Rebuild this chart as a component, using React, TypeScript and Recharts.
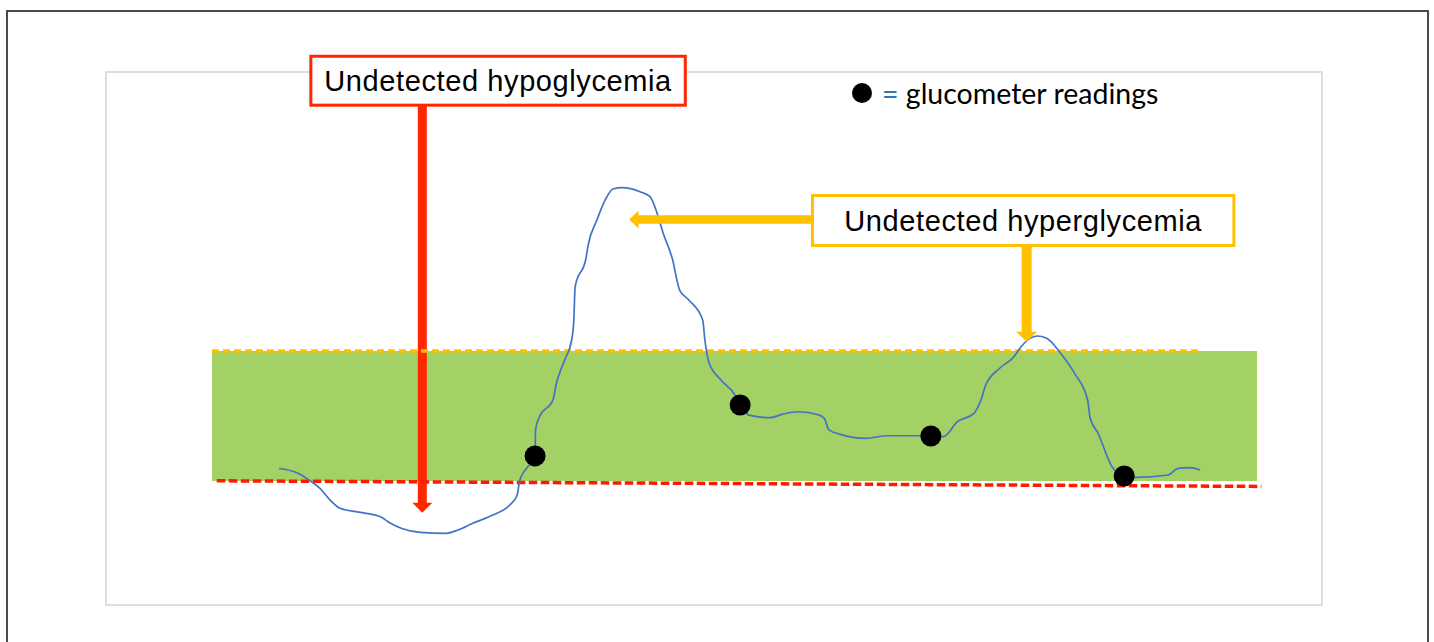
import React from 'react';
import {
  ComposedChart,
  Line,
  Scatter,
  XAxis,
  YAxis,
  ReferenceArea,
  ReferenceLine,
  Legend,
} from 'recharts';

// Time of day in hours (the target band spans 0–24 h), glucose in mg/dL.
const cgmTime = [
  1.54, 1.95, 2.25, 2.48, 2.71, 2.94, 3.45, 3.88, 4.09, 4.36, 4.78, 5.37, 5.65, 5.99, 6.45, 6.84,
  7.01, 7.06, 7.12, 7.23, 7.42, 7.43, 7.52, 7.83, 7.91, 8.1, 8.26, 8.31, 8.34, 8.59, 8.64, 8.84,
  9.03, 9.21, 9.42, 9.83, 10.06, 10.22, 10.36, 10.57, 10.74, 10.95, 11.27, 11.32, 11.42, 11.69,
  12.01, 12.13, 12.33, 12.82, 13.09, 13.46, 13.94, 14.06, 14.17, 14.43, 15.02, 15.5, 16.16, 16.51,
  16.8, 17.12, 17.5, 17.66, 17.77, 18.09, 18.42, 18.58, 18.95, 19.17, 19.49, 19.81, 20.11, 20.17,
  20.35, 20.67, 20.95, 21.21, 21.96, 22.19, 22.45, 22.69,
];
const cgmGlucose = [
  80.6, 77.0, 70.3, 63.8, 53.9, 46.9, 43.2, 39.5, 34.5, 29.8, 26.6, 25.7, 28.5, 34.2, 41.2, 49.7,
  58.2, 69.2, 75.1, 81.0, 91.2, 113.2, 124.4, 138.5, 152.7, 172.4, 189.3, 206.2, 234.4, 258.7, 269.7,
  290.8, 307.8, 317.1, 318.2, 314.8, 310.6, 296.8, 279.8, 258.4, 231.6, 223.2, 206.2, 189.3, 169.6,
  155.5, 142.8, 134.3, 125.8, 123.6, 126.4, 128.6, 125.8, 123.1, 113.2, 109.5, 106.1, 108.3, 108.3,
  108.1, 107.5, 120.2, 127.3, 138.5, 151.2, 165.4, 175.2, 183.6, 192.7, 190.7, 178.1, 161.1, 138.5,
  123.1, 110.4, 82.1, 74.2, 73.1, 75.1, 80.7, 81.3, 79.3,
];

const readingTime = [7.42, 12.13, 16.51, 20.95];
const readingGlucose = [91.2, 134.3, 108.1, 74.2];

const targetLow = 70;
const targetHigh = 180;
const targetStart = 0;
const targetEnd = 24;

const hyperLimitTime = [0, 22.64];
const hyperLimitGlucose = [180, 180];
const hypoLimitTime = [0.11, 24.1];
const hypoLimitGlucose = [70.2, 65.4];

const labelTexts = ['Undetected hypoglycemia', 'Undetected hyperglycemia'];
const legendText = 'glucometer readings';

// annotation anchors (hours, mg/dL)
const hypoBoxTime = [2.27, 10.87];
const hypoBoxGlucose = [388.0, 429.4];
const hyperBoxTime = [13.79, 23.47];
const hyperBoxGlucose = [269.3, 311.6];
const hypoArrowTime = [4.83, 4.83];
const hypoArrowGlucose = [388.0, 43.2];
const hyperArrowATime = [13.79, 9.58];
const hyperArrowAGlucose = [291.3, 291.3];
const hyperArrowBTime = [18.71, 18.71];
const hyperArrowBGlucose = [269.3, 187.9];

const cgmData = cgmTime.map((t, i) => ({ t, g: cgmGlucose[i] }));
const readingData = readingTime.map((t, i) => ({ t, g: readingGlucose[i] }));
const seg = (ts: number[], gs: number[]) => ts.map((t, i) => ({ x: t, y: gs[i] }));

const RED = '#FF2600';
const GOLD = '#FFC000';

const makeArrow = (color: string, shaft: number, headW: number, headL: number) => (p: any) => {
  const { x1, y1, x2, y2 } = p;
  if ([x1, y1, x2, y2].some((v) => typeof v !== 'number' || isNaN(v))) return <g />;
  const dx = x2 - x1;
  const dy = y2 - y1;
  const len = Math.hypot(dx, dy) || 1;
  const ux = dx / len;
  const uy = dy / len;
  const nx = -uy;
  const ny = ux;
  const bx = x2 - ux * headL;
  const by = y2 - uy * headL;
  const pts = [
    [x1 + (nx * shaft) / 2, y1 + (ny * shaft) / 2],
    [bx + (nx * shaft) / 2, by + (ny * shaft) / 2],
    [bx + (nx * headW) / 2, by + (ny * headW) / 2],
    [x2, y2],
    [bx - (nx * headW) / 2, by - (ny * headW) / 2],
    [bx - (nx * shaft) / 2, by - (ny * shaft) / 2],
    [x1 - (nx * shaft) / 2, y1 - (ny * shaft) / 2],
  ];
  return <polygon points={pts.map((q) => q.join(',')).join(' ')} fill={color} />;
};

const makeBox = (text: string, color: string) => (p: any) => {
  const { x, y, width, height } = p;
  if ([x, y, width, height].some((v) => typeof v !== 'number' || isNaN(v))) return <g />;
  return (
    <g>
      <rect x={x} y={y} width={width} height={height} fill="#fff" stroke={color} strokeWidth={3} />
      <text
        x={x + width / 2}
        y={y + height / 2 + 10.3}
        textAnchor="middle"
        fontFamily="'Liberation Sans', Arial, sans-serif"
        fontSize={29}
        letterSpacing={0.6}
        fill="#000"
      >
        {text}
      </text>
    </g>
  );
};

const LegendContent = () => (
  <div
    style={{
      display: 'flex',
      alignItems: 'center',
      height: 34,
      fontFamily: 'Lato, sans-serif',
      fontSize: 28.5,
      lineHeight: '34px',
      whiteSpace: 'nowrap',
    }}
  >
    <span
      style={{
        width: 20,
        height: 20,
        borderRadius: '50%',
        background: '#000',
        display: 'inline-block',
        marginRight: 10,
      }}
    />
    <span style={{ color: '#2E75B6' }}>=</span>
    <span style={{ color: '#000' }}>{'\u00a0' + legendText}</span>
  </div>
);

export default function App() {
  return (
    <div
      style={{
        position: 'absolute',
        left: 0,
        top: 0,
        width: 1434,
        height: 642,
        background: '#fff',
        overflow: 'hidden',
      }}
    >
      <div
        style={{
          position: 'absolute',
          left: 6,
          top: 10,
          width: 1423,
          height: 700,
          border: '2px solid #4a4a4a',
          boxSizing: 'border-box',
        }}
      />
      <div
        style={{
          position: 'absolute',
          left: 105,
          top: 71,
          width: 1218,
          height: 535,
          border: '2px solid #dedede',
          boxSizing: 'border-box',
        }}
      />
      <div style={{ position: 'absolute', left: 0, top: 0 }}>
        <ComposedChart
          width={1434}
          height={642}
          margin={{ top: 31.91, right: 89.92, bottom: 78.27, left: 124.92 }}
        >
          <XAxis dataKey="t" type="number" domain={[-2, 26]} hide allowDataOverflow />
          <YAxis dataKey="g" type="number" domain={[0, 450]} hide allowDataOverflow />
          <ReferenceArea
            x1={targetStart}
            x2={targetEnd}
            y1={targetLow}
            y2={targetHigh}
            fill="#A3D165"
            fillOpacity={1}
            stroke="none"
            ifOverflow="visible"
          />
          <ReferenceLine
            segment={seg(hypoArrowTime, hypoArrowGlucose)}
            shape={makeArrow(RED, 9, 20, 10)}
            ifOverflow="visible"
          />
          <ReferenceLine
            segment={seg(hyperLimitTime, hyperLimitGlucose)}
            stroke={GOLD}
            strokeWidth={3.5}
            strokeDasharray="7 4"
            ifOverflow="visible"
          />
          <ReferenceLine
            segment={seg(hypoLimitTime, hypoLimitGlucose)}
            stroke="#FF1A00"
            strokeWidth={3.5}
            strokeDasharray="8.5 3.5"
            ifOverflow="visible"
          />
          <Line
            data={cgmData}
            dataKey="g"
            type="monotone"
            stroke="#4472C4"
            strokeWidth={1.7}
            dot={false}
            activeDot={false}
            isAnimationActive={false}
            legendType="none"
          />
          <Scatter
            data={readingData}
            dataKey="g"
            fill="#000"
            isAnimationActive={false}
            shape={(p: any) => <circle cx={p.cx} cy={p.cy} r={10.5} fill="#000" />}
          />
          <ReferenceLine
            segment={seg(hyperArrowATime, hyperArrowAGlucose)}
            shape={makeArrow(GOLD, 8.5, 18, 9.5)}
            ifOverflow="visible"
          />
          <ReferenceLine
            segment={seg(hyperArrowBTime, hyperArrowBGlucose)}
            shape={makeArrow(GOLD, 10, 21, 10)}
            ifOverflow="visible"
          />
          <ReferenceArea
            x1={hypoBoxTime[0]}
            x2={hypoBoxTime[1]}
            y1={hypoBoxGlucose[0]}
            y2={hypoBoxGlucose[1]}
            shape={makeBox(labelTexts[0], RED)}
            ifOverflow="visible"
          />
          <ReferenceArea
            x1={hyperBoxTime[0]}
            x2={hyperBoxTime[1]}
            y1={hyperBoxGlucose[0]}
            y2={hyperBoxGlucose[1]}
            shape={makeBox(labelTexts[1], GOLD)}
            ifOverflow="visible"
          />
          <Legend
            layout="horizontal"
            verticalAlign="middle"
            align="center"
            wrapperStyle={{ left: 852, top: 76, width: 330, height: 34 }}
            content={() => <LegendContent />}
          />
        </ComposedChart>
      </div>
    </div>
  );
}
